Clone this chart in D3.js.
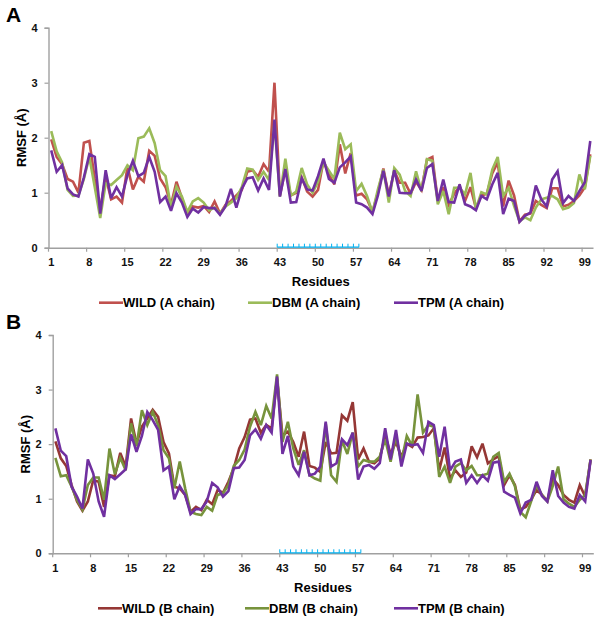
<!DOCTYPE html>
<html>
<head>
<meta charset="utf-8">
<script src="https://cdn.jsdelivr.net/npm/d3@7"></script>
<style>
  body { margin: 0; background: #fff; }
  svg { display: block; font-family: "Liberation Sans", Arial, sans-serif; font-weight: bold; }
</style>
</head>
<body>
<svg id="chart" width="600" height="623"></svg>
<script>
// residues 1..100
const residues = d3.range(1, 101);
const tickResidues = [1, 8, 15, 22, 29, 36, 43, 50, 57, 64, 71, 78, 85, 92, 99];
const yTicks = [0, 1, 2, 3, 4];
const loopStart = 43, loopEnd = 57; // blue marked region on the axis

const wildA = [1.97,1.65,1.52,1.25,1.20,1.00,1.91,1.94,1.25,0.70,
  1.29,0.88,0.93,0.82,1.47,1.06,1.29,1.20,1.76,1.67,
  1.26,1.10,0.78,1.20,0.90,0.62,0.75,0.73,0.76,0.65,
  0.84,0.62,0.78,0.85,0.95,1.05,1.38,1.41,1.29,1.52,
  1.38,3.00,0.95,1.42,0.95,1.00,1.28,1.02,0.93,1.05,
  1.58,1.33,1.15,1.88,1.35,1.72,0.95,0.98,0.88,0.65,
  1.00,1.44,0.95,1.40,1.18,1.18,0.98,1.20,1.05,1.60,
  1.65,0.85,1.10,0.78,0.98,1.12,0.85,1.10,0.72,0.95,
  0.98,1.35,1.55,0.75,1.22,0.95,0.48,0.60,0.62,0.85,
  0.78,0.72,1.08,1.08,0.75,0.78,0.85,0.95,1.10,1.70];
const dbmA = [2.12,1.75,1.55,1.05,0.94,0.95,1.25,1.65,1.10,0.54,
  1.17,1.14,1.23,1.32,1.50,1.41,1.99,2.02,2.17,1.90,
  1.41,1.30,0.73,1.11,0.93,0.65,0.84,0.90,0.82,0.68,
  0.73,0.62,0.75,0.82,0.90,1.10,1.44,1.42,1.23,1.38,
  1.23,2.28,0.93,1.62,0.95,1.02,1.45,1.15,1.00,1.20,
  1.55,1.40,1.25,2.09,1.79,1.88,1.03,1.16,0.94,0.64,
  1.06,1.42,0.82,1.45,1.33,1.03,0.94,1.39,1.03,1.61,
  1.58,0.79,1.03,0.61,1.09,1.09,0.97,1.36,0.70,1.01,
  0.97,1.42,1.65,0.94,1.09,0.76,0.48,0.55,0.50,0.73,
  0.88,0.91,0.94,0.88,0.70,0.73,0.81,1.33,1.06,1.67];
const tpmA = [1.77,1.38,1.50,1.08,0.97,0.93,1.28,1.70,1.65,0.62,
  1.41,0.90,1.10,0.93,1.32,1.58,1.30,1.36,1.65,1.38,
  0.83,0.93,0.67,0.99,0.82,0.56,0.71,0.64,0.74,0.72,
  0.72,0.60,0.75,1.07,0.73,1.07,1.26,1.28,1.04,1.26,
  1.05,2.33,0.93,1.43,0.82,0.83,1.26,1.06,1.04,1.30,
  1.62,1.25,1.18,1.46,1.55,1.66,0.82,0.79,0.73,0.61,
  0.95,1.40,0.93,1.41,1.00,0.99,0.99,1.24,1.03,1.45,
  1.52,0.85,1.24,0.83,0.82,1.15,0.79,0.75,0.68,0.94,
  0.88,1.15,1.36,0.61,0.89,0.85,0.47,0.58,0.64,1.13,
  0.88,0.75,1.24,1.39,0.81,0.94,0.85,1.03,1.19,1.94];

const wildB = [2.05,1.74,1.60,1.25,0.95,0.78,0.95,1.34,1.31,0.85,
  1.43,1.41,1.84,1.59,2.47,2.01,2.32,2.47,2.63,2.50,
  2.04,1.83,1.22,1.19,1.07,0.76,0.85,0.79,0.98,0.90,
  1.16,1.11,1.31,1.56,1.92,2.13,2.45,2.47,2.21,2.35,
  2.29,3.20,2.16,2.23,2.04,1.77,2.23,1.60,1.57,1.49,
  2.04,1.83,1.84,2.53,2.43,2.77,1.72,1.92,1.68,1.65,
  1.74,2.16,1.82,2.04,1.77,2.01,1.95,2.12,2.13,2.16,
  2.29,1.52,1.94,1.37,1.52,1.40,1.48,1.96,1.76,2.01,
  1.65,1.72,1.78,1.25,1.43,1.25,0.80,0.85,0.98,1.16,
  1.07,0.96,1.37,1.25,1.07,0.98,0.93,1.25,1.04,1.72];
const dbmB = [1.75,1.41,1.43,1.22,0.98,0.80,1.25,1.39,1.39,0.98,
  1.92,1.45,1.75,1.52,2.38,1.96,2.62,2.35,2.59,2.35,
  1.89,1.74,1.19,1.68,1.19,0.76,0.72,0.70,0.85,0.78,
  1.07,1.10,1.25,1.60,1.71,1.90,2.32,2.59,2.35,2.70,
  2.47,3.28,2.04,2.41,1.92,1.62,1.89,1.43,1.37,1.33,
  2.38,1.43,1.31,2.07,1.82,2.21,1.59,1.71,1.68,1.68,
  1.77,2.09,1.68,2.15,1.68,2.15,1.97,2.91,2.21,2.35,
  2.32,1.40,1.59,1.29,1.59,1.65,1.52,1.60,1.43,1.43,
  1.46,1.77,1.84,1.31,1.46,1.23,0.76,0.66,0.95,1.25,
  1.07,0.95,1.23,1.59,0.99,0.91,0.85,0.98,1.07,1.72];
const tpmB = [2.29,1.88,1.78,1.22,1.04,0.82,1.72,1.46,0.95,0.67,
  1.43,1.36,1.45,1.54,2.18,1.86,2.15,2.59,2.44,2.26,
  1.52,1.59,0.99,1.23,1.07,0.72,0.81,0.81,0.95,1.29,
  1.21,1.04,1.14,1.56,1.57,1.71,2.16,2.27,2.10,2.35,
  2.21,3.24,1.82,2.15,1.59,1.43,1.86,1.43,1.46,1.59,
  2.41,1.59,1.65,2.09,1.98,2.21,1.35,1.59,1.62,1.55,
  1.65,2.29,1.72,2.26,1.59,2.01,1.98,2.00,1.84,2.41,
  2.35,1.77,2.32,1.52,1.68,1.72,1.29,1.43,1.29,1.43,
  1.33,1.66,1.68,1.13,1.07,1.02,0.73,0.93,0.98,1.31,
  1.05,0.95,1.52,1.05,0.93,0.85,0.82,1.07,0.95,1.71];

const svg = d3.select("#chart");

function drawPanel(p) {
    const g = svg.append("g");

    const x = d3.scaleBand()
        .domain(residues)
        .range([p.left, p.right])
        .padding(0);
    const y = d3.scaleLinear()
        .domain([0, 4])
        .range([p.bottom, p.top]);
    const cx = r => x(r) + x.bandwidth() / 2;

    // panel letter
    g.append("text")
        .attr("x", 6)
        .attr("y", p.top - 6)
        .style("font-size", "21px")
        .text(p.letter);

    // Y axis
    const yAxis = g.append("g")
        .attr("transform", `translate(${p.left},0)`)
        .call(d3.axisLeft(y).tickValues(yTicks).tickSize(4).tickPadding(7).tickFormat(d3.format("d")));
    yAxis.select(".domain").attr("stroke", "#a0a0a0").attr("stroke-width", 1.4);
    yAxis.selectAll(".tick line").attr("stroke", "#a0a0a0").attr("stroke-width", 1.2);
    yAxis.selectAll("text").style("font-size", "11px").style("font-weight", "bold").attr("fill", "#111");

    // X axis (labels centred in the bands, tick marks on band edges)
    const xAxis = g.append("g")
        .attr("transform", `translate(0,${p.bottom})`)
        .call(d3.axisBottom(x).tickValues(tickResidues).tickSize(0).tickPadding(11).tickSizeOuter(0));
    xAxis.select(".domain").attr("stroke", "#a0a0a0").attr("stroke-width", 1.4);
    xAxis.selectAll("text").style("font-size", "11px").style("font-weight", "bold").attr("fill", "#111");

    g.selectAll(".xtick")
        .data(tickResidues)
        .enter()
        .append("line")
        .attr("x1", d => x(d)).attr("x2", d => x(d))
        .attr("y1", p.bottom).attr("y2", p.bottom + 4)
        .attr("stroke", "#a0a0a0")
        .attr("stroke-width", 1.2);

    // blue comb marking residues 43-57
    const loop = residues.filter(r => r >= loopStart && r <= loopEnd);
    const loopX0 = x(loopStart), loopX1 = x(loopEnd) + x.bandwidth();
    g.append("line")
        .attr("x1", loopX0).attr("x2", loopX1)
        .attr("y1", p.bottom - 0.5).attr("y2", p.bottom - 0.5)
        .attr("stroke", "#00b0f0")
        .attr("stroke-width", 1.2);
    g.selectAll(".comb")
        .data(loop.concat([loopEnd + 1]))
        .enter()
        .append("line")
        .attr("x1", d => d > loopEnd ? loopX1 : x(d))
        .attr("x2", d => d > loopEnd ? loopX1 : x(d))
        .attr("y1", p.bottom - 0.5).attr("y2", p.bottom - 4)
        .attr("stroke", "#00b0f0")
        .attr("stroke-width", 1);

    // axis titles
    g.append("text")
        .attr("transform", `translate(${p.left - 27},${(p.top + p.bottom) / 2}) rotate(-90)`)
        .attr("text-anchor", "middle")
        .attr("dy", "0.35em")
        .style("font-size", "13px")
        .text("RMSF (Å)");

    g.append("text")
        .attr("x", (p.left + p.right) / 2)
        .attr("y", p.bottom + 34)
        .attr("text-anchor", "middle")
        .attr("dy", "0.35em")
        .style("font-size", "13px")
        .text("Residues");

    // lines
    const line = d3.line()
        .x((d, i) => cx(residues[i]))
        .y(d => y(d));

    p.series.forEach(s => {
        g.append("path")
            .datum(s.values)
            .attr("fill", "none")
            .attr("stroke", s.color)
            .attr("stroke-width", 2.6)
            .attr("stroke-linejoin", "miter")
            .attr("stroke-miterlimit", 3)
            .attr("d", line);
    });

    // legend
    const legend = g.append("g")
        .attr("transform", `translate(0,${p.bottom + 55})`);
    p.series.forEach(s => {
        legend.append("line")
            .attr("x1", s.lx).attr("x2", s.lx + 24)
            .attr("y1", 0).attr("y2", 0)
            .attr("stroke", s.color)
            .attr("stroke-width", 2.6);
        legend.append("text")
            .attr("x", s.lx + 24)
            .attr("y", 0)
            .attr("dy", "0.36em")
            .style("font-size", "13px")
            .text(s.name);
    });
}

drawPanel({
    letter: "A",
    left: 48.5, right: 593, top: 27.7, bottom: 247.7,
    series: [
        { name: "WILD (A chain)", values: wildA, color: "#c0504d", lx: 99 },
        { name: "DBM (A chain)", values: dbmA, color: "#9bbb59", lx: 248 },
        { name: "TPM (A chain)", values: tpmA, color: "#7030a0", lx: 394 }
    ]
});

drawPanel({
    letter: "B",
    left: 52.7, right: 593.3, top: 335, bottom: 553.3,
    series: [
        { name: "WILD (B chain)", values: wildB, color: "#953735", lx: 98 },
        { name: "DBM (B chain)", values: dbmB, color: "#77933c", lx: 245 },
        { name: "TPM (B chain)", values: tpmB, color: "#7030a0", lx: 394 }
    ]
});
</script>
</body>
</html>
